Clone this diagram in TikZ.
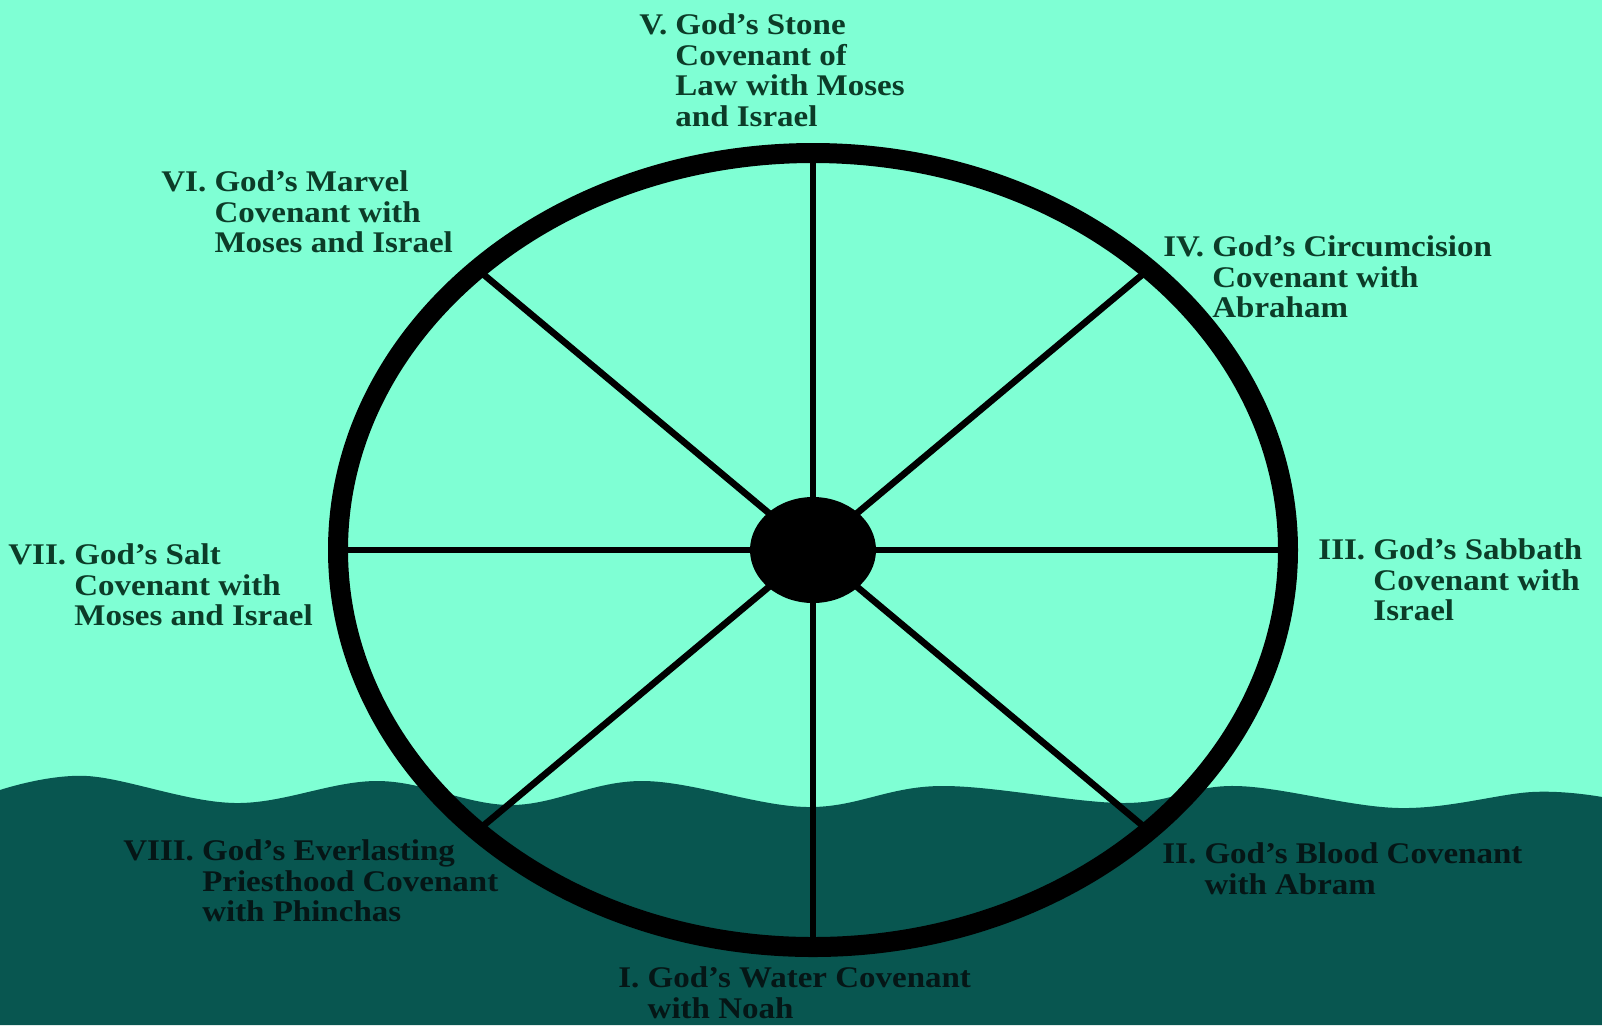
\documentclass[tikz,border=0pt]{standalone}
\usepackage{fontspec}
\newfontfamily\lab{Liberation Serif}[FakeStretch=1.1]
\definecolor{sky}{RGB}{127,255,212}
\definecolor{sea}{RGB}{8,86,80}
\definecolor{inkup}{RGB}{12,60,40}
\definecolor{inkdn}{RGB}{5,22,22}
\begin{document}
\begin{tikzpicture}[x=0.5pt,y=-0.5pt,
  lbl/.style={anchor=north west, inner sep=0pt, align=left, font=\lab\bfseries\fontsize{15}{15.4}\selectfont, text=inkup},
  lbldn/.style={lbl, text=inkdn},
  spoke/.style={line width=3.3pt, draw=black},
  rim/.style={line width=10pt, draw=black}]
\useasboundingbox (0,0) rectangle (1602,1025);
\fill[sky] (0,0) rectangle (1602,1025);
\fill[sea] plot[smooth, tension=0.6] coordinates {(0,790) (87,776) (235,803) (378,781) (511,805) (643,781) (807,807) (940,786) (1124,803) (1236,786) (1399,808) (1532,792) (1602,797)} -- (1602,1025) -- (0,1025) -- cycle;
% wheel
\coordinate (c) at (813,550);
\coordinate (s0) at (1288,550);
\coordinate (s1) at (1149,269);
\coordinate (s2) at (813,153);
\coordinate (s3) at (477,269);
\coordinate (s4) at (338,550);
\coordinate (s5) at (477,831);
\coordinate (s6) at (813,947);
\coordinate (s7) at (1149,831);
\foreach \s in {s0,s1,s2,s3,s4,s5,s6,s7} \draw[spoke] (c) -- (\s);
\draw[rim] (c) ellipse [x radius=475, y radius=397];
\fill[black] (c) ellipse [x radius=63, y radius=53];
% labels
\node[lbl] (l5) at (639,13) {V.~God’s Stone\\\hphantom{V.~}Covenant of\\\hphantom{V.~}Law with Moses\\\hphantom{V.~}and Israel};
\node[lbl] (l6) at (161,170) {VI.~God’s Marvel\\\hphantom{VI.~}Covenant with\\\hphantom{VI.~}Moses and Israel};
\node[lbl] (l4) at (1163,235) {IV.~God’s Circumcision\\\hphantom{IV.~}Covenant with\\\hphantom{IV.~}Abraham};
\node[lbl] (l3) at (1318,538) {III.~God’s Sabbath\\\hphantom{III.~}Covenant with\\\hphantom{III.~}Israel};
\node[lbl] (l7) at (8,543) {VII.~God’s Salt\\\hphantom{VII.~}Covenant with\\\hphantom{VII.~}Moses and Israel};
\node[lbldn] (l8) at (123,839) {VIII.~God’s Everlasting\\\hphantom{VIII.~}Priesthood Covenant\\\hphantom{VIII.~}with Phinchas};
\node[lbldn] (l2) at (1162,842) {II.~God’s Blood Covenant\\\hphantom{II.~}with Abram};
\node[lbldn] (l1) at (618,966) {I.~God’s Water Covenant\\\hphantom{I.~}with Noah};
\end{tikzpicture}
\end{document}
